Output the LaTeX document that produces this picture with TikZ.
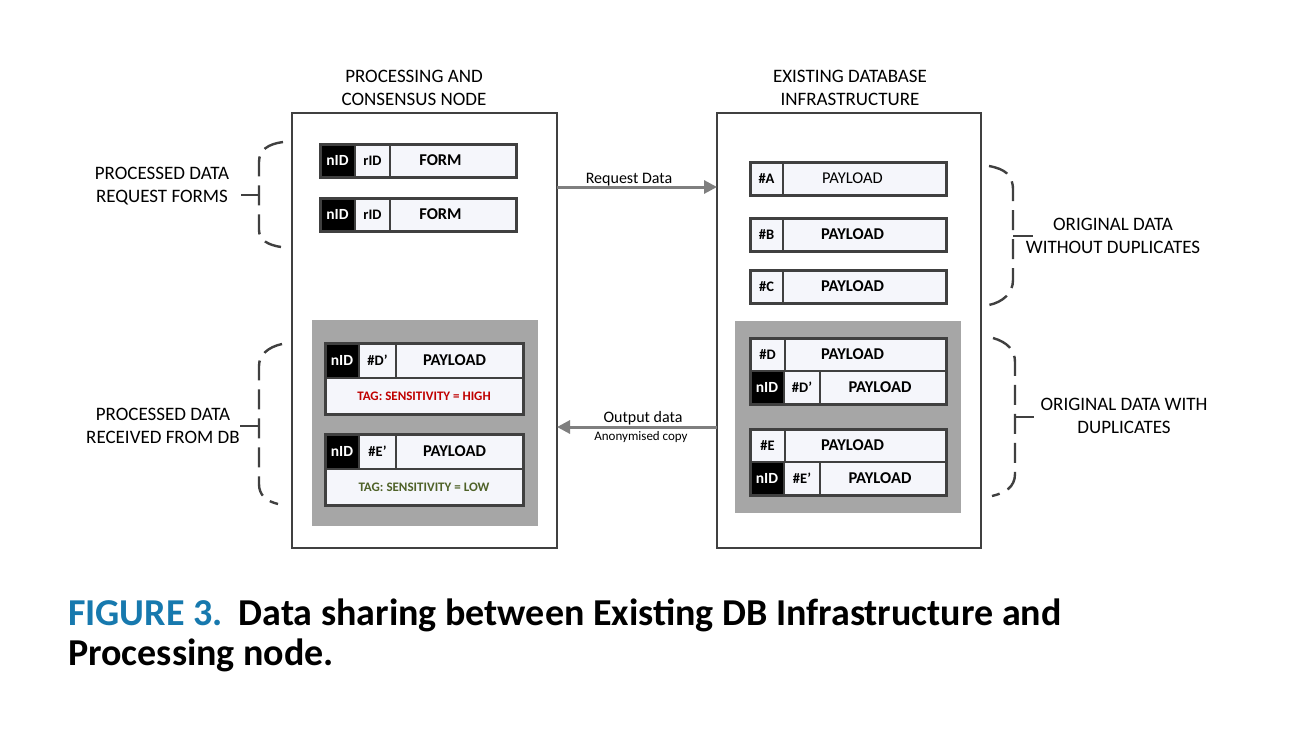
\documentclass[tikz,border=0pt]{standalone}
\usepackage{fontspec}
\setmainfont{Carlito}
\newfontfamily\capfont{Carlito}
\usetikzlibrary{fit,arrows.meta}
\definecolor{dk}{HTML}{404040}
\definecolor{cellbg}{RGB}{245,246,251}
\definecolor{grp}{HTML}{A6A6A6}
\definecolor{arrg}{HTML}{7F7F7F}
\definecolor{tagred}{RGB}{192,0,0}
\definecolor{taggreen}{RGB}{79,98,40}
\definecolor{capblue}{RGB}{23,121,174}
\tikzset{
  cell/.style={draw=dk, line width=1.6pt, fill=cellbg, inner sep=0pt, outer sep=0pt, anchor=north west,
    font=\fontsize{16.5}{18}\selectfont\bfseries},
  blk/.style={cell, fill=black, text=white, font=\fontsize{15.5}{17}\selectfont\bfseries},
  hcell/.style={cell, font=\fontsize{14.5}{16}\selectfont\bfseries},
  frame/.style={draw=dk, line width=3pt, inner sep=0pt, outer sep=0pt},
  mainbox/.style={draw=dk, line width=2pt, fill=white, inner sep=0pt, outer sep=0pt, anchor=north west},
  grpbox/.style={fill=grp, inner sep=0pt, outer sep=0pt, anchor=north west},
  lbl/.style={align=center, font=\fontsize{19}{23}\selectfont, text=black},
  arr/.style={draw=arrg, line width=3pt, -{Triangle[length=13pt,width=13pt]}},
  brace/.style={draw=dk, line width=2.4pt, dash pattern=on 20pt off 9pt},
  tick/.style={draw=dk, line width=2.4pt},
  tagtxt/.style={font=\fontsize{13}{15}\selectfont\bfseries}
}
\begin{document}
\begin{tikzpicture}[x=1pt,y=-1pt]
\useasboundingbox[fill=white] (0,0) rectangle (1295,732);

% main boxes
\node[mainbox, minimum width=265pt, minimum height=435pt] (lbox) at (292,113) {};
\node[mainbox, minimum width=264pt, minimum height=435pt] (rbox) at (717,113) {};
\node[lbl] (ltitle) at (414,87.5) {PROCESSING AND\\CONSENSUS NODE};
\node[lbl] (rtitle) at (850,87.5) {EXISTING DATABASE\\INFRASTRUCTURE};

% left forms
\node[blk, minimum width=35pt, minimum height=33pt] (f1n) at (320,144) {nID};
\node[hcell, minimum width=35pt, minimum height=33pt] (f1r) at (355,144) {rID};
\node[cell, minimum width=126pt, minimum height=33pt] (f1f) at (390,144) {FORM\hspace*{25pt}};
\node[frame, fit=(f1n)(f1f)] (f1) {};
\node[blk, minimum width=35pt, minimum height=33pt] (f2n) at (320,198) {nID};
\node[hcell, minimum width=35pt, minimum height=33pt] (f2r) at (355,198) {rID};
\node[cell, minimum width=126pt, minimum height=33pt] (f2f) at (390,198) {FORM\hspace*{25pt}};
\node[frame, fit=(f2n)(f2f)] (f2) {};

% left gray group
\node[grpbox, minimum width=226pt, minimum height=206pt] (lgrp) at (312,320) {};
\node[blk, minimum width=34pt, minimum height=35pt] (dpn) at (325,343) {nID};
\node[hcell, minimum width=37pt, minimum height=35pt] (dph) at (359,343) {\#D’};
\node[cell, minimum width=127pt, minimum height=35pt] (dpp) at (396,343) {PAYLOAD\hspace*{10pt}};
\node[cell, tagtxt, text=tagred, minimum width=198pt, minimum height=36pt] (dpt) at (325,378) {TAG: SENSITIVITY = HIGH};
\node[frame, fit=(dpn)(dpt)] (dprec) {};
\node[blk, minimum width=34pt, minimum height=35pt] (epn) at (325,434) {nID};
\node[hcell, minimum width=37pt, minimum height=35pt] (eph) at (359,434) {\#E’};
\node[cell, minimum width=127pt, minimum height=35pt] (epp) at (396,434) {PAYLOAD\hspace*{10pt}};
\node[cell, tagtxt, text=taggreen, minimum width=198pt, minimum height=36pt] (ept) at (325,469) {TAG: SENSITIVITY = LOW};
\node[frame, fit=(epn)(ept)] (eprec) {};

% right records
\node[hcell, minimum width=33pt, minimum height=33pt] (ah) at (750,162) {\#A};
\node[cell, font=\fontsize{16.5}{18}\selectfont, minimum width=163pt, minimum height=33pt] (ap) at (783,162) {PAYLOAD\hspace*{24pt}};
\node[frame, fit=(ah)(ap)] (arec) {};
\node[hcell, minimum width=33pt, minimum height=33pt] (bh) at (750,218) {\#B};
\node[cell, minimum width=163pt, minimum height=33pt] (bp) at (783,218) {PAYLOAD\hspace*{24pt}};
\node[frame, fit=(bh)(bp)] (brec) {};
\node[hcell, minimum width=33pt, minimum height=33pt] (ch) at (750,270) {\#C};
\node[cell, minimum width=163pt, minimum height=33pt] (cp) at (783,270) {PAYLOAD\hspace*{24pt}};
\node[frame, fit=(ch)(cp)] (crec) {};

% right gray group
\node[grpbox, minimum width=226pt, minimum height=192pt] (rgrp) at (735,321) {};
\node[hcell, minimum width=35pt, minimum height=33pt] (dh) at (750,338) {\#D};
\node[cell, minimum width=161pt, minimum height=33pt] (dp) at (785,338) {PAYLOAD\hspace*{26pt}};
\node[blk, minimum width=34pt, minimum height=33pt] (d2n) at (750,371) {nID};
\node[hcell, minimum width=36pt, minimum height=33pt] (d2h) at (784,371) {\#D’};
\node[cell, minimum width=126pt, minimum height=33pt] (d2p) at (820,371) {PAYLOAD\hspace*{6pt}};
\node[frame, fit=(dh)(d2p)] (drec) {};
\node[hcell, minimum width=35pt, minimum height=33pt] (eh) at (750,429) {\#E};
\node[cell, minimum width=161pt, minimum height=33pt] (ep) at (785,429) {PAYLOAD\hspace*{26pt}};
\node[blk, minimum width=34pt, minimum height=33pt] (e2n) at (750,462) {nID};
\node[hcell, minimum width=36pt, minimum height=33pt] (e2h) at (784,462) {\#E’};
\node[cell, minimum width=126pt, minimum height=33pt] (e2p) at (820,462) {PAYLOAD\hspace*{6pt}};
\node[frame, fit=(eh)(e2p)] (erec) {};

% arrows
\coordinate (reqy) at (0,187);
\coordinate (outy) at (0,427);
\draw[arr] (lbox.east |- reqy) -- (rbox.west |- reqy);
\draw[arr] (rbox.west |- outy) -- (lbox.east |- outy);
\node[font=\fontsize{16}{18}\selectfont] (reqlbl) at (629,180) {Request Data};
\node[font=\fontsize{16}{18}\selectfont] (outlbl) at (643,418) {Output data};
\node[font=\fontsize{13}{15}\selectfont] (anonlbl) at (641,437) {Anonymised copy};

% braces
\draw[brace] (283,142) .. controls (268,144) and (259,150) .. (259,162) -- (259,230) .. controls (259,240) and (268,245) .. (281,247);
\draw[tick] (259,195) -- (241,195);
\node[lbl] (lt1) at (162,186.5) {PROCESSED DATA\\REQUEST FORMS};

\draw[brace] (282,344) .. controls (268,347) and (259,355) .. (259,366) -- (259,484) .. controls (259,495) and (266,501) .. (278,504);
\draw[tick] (259,426) -- (240,426);
\node[lbl] (lt2) at (163,425.5) {PROCESSED DATA\\RECEIVED FROM DB};

\draw[brace] (989,166) .. controls (1005,169) and (1013,175) .. (1013,190) -- (1013,280) .. controls (1013,293) and (1003,302) .. (989,305);
\draw[tick] (1013,236) -- (1033,236);
\node[lbl] (rt1) at (1113,235.5) {ORIGINAL DATA\\WITHOUT DUPLICATES};

\draw[brace] (993,338) .. controls (1007,342) and (1015,350) .. (1015,362) -- (1015,474) .. controls (1015,487) and (1005,493) .. (992,496);
\draw[tick] (1015,417) -- (1034,417);
\node[lbl] (rt2) at (1124,415.5) {ORIGINAL DATA WITH\\DUPLICATES};

% caption
\node[anchor=base west, inner sep=0pt, font=\capfont\bfseries\fontsize{38}{44}\selectfont] (cap1) at (68,625)
  {\textcolor{capblue}{FIGURE 3.}\hspace{16pt}Data sharing between Existing DB Infrastructure and};
\node[anchor=base west, inner sep=0pt, font=\capfont\bfseries\fontsize{38}{44}\selectfont] (cap2) at (68,665)
  {Processing node.};
\end{tikzpicture}
\end{document}
